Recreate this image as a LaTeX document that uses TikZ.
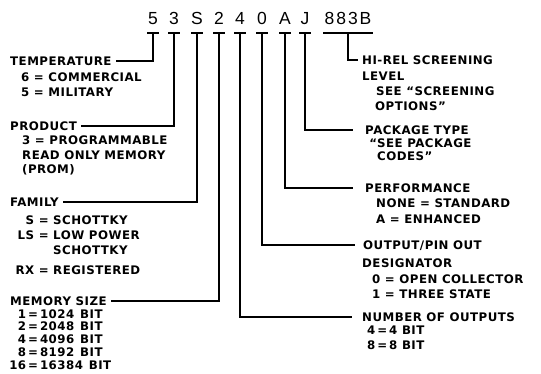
\documentclass[tikz,border=0pt]{standalone}
\usepackage{fontspec}
\setmainfont{DejaVu Sans}[LetterSpace=4]
\newfontfamily\partfont{Liberation Sans}
\usetikzlibrary{positioning}

\newcommand{\kv}[3]{\makebox[#1][r]{#2} = #3}
\newcommand{\kvc}[2]{\makebox[#1]{} \hphantom{=} #2}
\newcommand{\msize}[2]{\makebox[16pt][r]{#1}\,=\,#2\enspace BIT}

\begin{document}
\begin{tikzpicture}[
  x=1pt, y=-1pt,
  every node/.style={font=\bfseries\fontsize{11.8}{13}\selectfont},
  digit/.style={anchor=base, inner sep=0pt, font=\partfont\fontsize{17.5}{17.5}\selectfont},
  head/.style={anchor=west, inner xsep=4pt, inner ysep=0pt, text height=8.4pt, text depth=0pt},
  row/.style={inner sep=0pt, text height=8.4pt, text depth=0pt},
  bar/.style={line width=2.6pt},
  conn/.style={line width=1.3pt}
]
\useasboundingbox (0,0) rectangle (541,373);

% Part number
\node[digit] (d5) at (153,24.5) {5};
\node[digit] (d3) at (174,24.5) {3};
\node[digit] (dS) at (197,24.5) {S};
\node[digit] (d2) at (219,24.5) {2};
\node[digit] (d4) at (240,24.5) {4};
\node[digit] (d0) at (262,24.5) {0};
\node[digit] (dA) at (285,24.5) {A};
\node[digit] (dJ) at (305,24.5) {J};
\node[digit] (dB) at (348,24.5) {8\kern2pt8\kern2pt3\kern2ptB};

% Underline marks
\coordinate (u5) at ([yshift=-8.5pt]d5.base);
\coordinate (u3) at ([yshift=-8.5pt]d3.base);
\coordinate (uS) at ([yshift=-8.5pt]dS.base);
\coordinate (u2) at ([yshift=-8.5pt]d2.base);
\coordinate (u4) at ([yshift=-8.5pt]d4.base);
\coordinate (u0) at ([yshift=-8.5pt]d0.base);
\coordinate (uA) at ([yshift=-8.5pt]dA.base);
\coordinate (uJ) at ([yshift=-8.5pt]dJ.base);
\coordinate (uB) at ([yshift=-8.5pt]dB.base);
\draw[bar] ([xshift=-6pt]u5) -- ([xshift=6pt]u5);
\draw[bar] ([xshift=-6pt]u3) -- ([xshift=6pt]u3);
\draw[bar] ([xshift=-6pt]uS) -- ([xshift=6pt]uS);
\draw[bar] ([xshift=-6pt]u2) -- ([xshift=6pt]u2);
\draw[bar] ([xshift=-6pt]u4) -- ([xshift=6pt]u4);
\draw[bar] ([xshift=-6pt]u0) -- ([xshift=6pt]u0);
\draw[bar] ([xshift=-6pt]uA) -- ([xshift=6pt]uA);
\draw[bar] ([xshift=-6pt]uJ) -- ([xshift=6pt]uJ);
\draw[bar] ([xshift=-25pt]uB) -- ([xshift=25pt]uB);

% Temperature
\node[head] (temp) at (6,61) {TEMPERATURE};
\node[row, below right=7pt and 15pt of temp.south west] (temp1) {6 = COMMERCIAL};
\node[row, below right=7pt and 0pt of temp1.south west] (temp2) {5 = MILITARY};

% Product
\node[head] (prod) at (6,126) {PRODUCT};
\node[row, below right=5.6pt and 16pt of prod.south west] (prod1) {3 = PROGRAMMABLE};
\node[row, below right=5.6pt and 0pt of prod1.south west] (prod2) {READ ONLY MEMORY};
\node[row, below right=5.6pt and 0pt of prod2.south west] (prod3) {(PROM)};

% Family
\node[head] (fam) at (6,202) {FAMILY};
\node[row, below right=9.6pt and 6pt of fam.south west] (fam1) {\kv{22pt}{S}{SCHOTTKY}};
\node[row, below right=5.6pt and 0pt of fam1.south west] (fam2) {\kv{22pt}{LS}{LOW POWER}};
\node[row, below right=6.6pt and 0pt of fam2.south west] (fam3) {\kvc{22pt}{SCHOTTKY}};
\node[row, below right=11.6pt and 0pt of fam3.south west] (fam4) {\kv{22pt}{RX}{REGISTERED}};

% Memory size
\node[head] (mem) at (6,301) {MEMORY SIZE};
\node[row, below right=4pt and 4pt of mem.south west] (mem1) {\msize{1}{1024}};
\node[row, below right=4pt and 0pt of mem1.south west] (mem2) {\msize{2}{2048}};
\node[row, below right=4pt and 0pt of mem2.south west] (mem3) {\msize{4}{4096}};
\node[row, below right=4pt and 0pt of mem3.south west] (mem4) {\msize{8}{8192}};
\node[row, below right=4pt and 0pt of mem4.south west] (mem5) {\msize{16}{16384}};

% Hi-rel screening
\node[head] (hirel) at (358,60) {HI-REL SCREENING};
\node[row, below right=7pt and 4pt of hirel.south west] (hirel1) {LEVEL};
\node[row, below right=6.6pt and 14pt of hirel1.south west] (hirel2) {SEE “SCREENING};
\node[row, below right=6.6pt and -1pt of hirel2.south west] (hirel3) {OPTIONS”};

% Package type
\node[head] (pkg) at (361,130) {PACKAGE TYPE};
\node[row, below right=4.1pt and 16pt of pkg.south west] (pkg1) {\llap{“}SEE PACKAGE};
\node[row, below right=4.1pt and 0pt of pkg1.south west] (pkg2) {CODES”};

% Performance
\node[head] (perf) at (361,188) {PERFORMANCE};
\node[row, below right=6.6pt and 15pt of perf.south west] (perf1) {NONE = STANDARD};
\node[row, below right=6.6pt and 0pt of perf1.south west] (perf2) {A = ENHANCED};

% Output / pin out
\node[head] (outp) at (359,245) {OUTPUT/PIN OUT};
\node[row, below right=9.6pt and 3pt of outp.south west] (outp1) {DESIGNATOR};
\node[row, below right=6.6pt and 10pt of outp1.south west] (outp2) {0 = OPEN COLLECTOR};
\node[row, below right=6.6pt and 0pt of outp2.south west] (outp3) {1 = THREE STATE};

% Number of outputs
\node[head] (nout) at (358,317) {NUMBER OF OUTPUTS};
\node[row, below right=4.6pt and 9pt of nout.south west] (nout1) {4\,=\,4 BIT};
\node[row, below right=6pt and 0pt of nout1.south west] (nout2) {8\,=\,8 BIT};

% Connectors
\draw[conn] (u5) |- (temp.east);
\draw[conn] (u3) |- (prod.east);
\draw[conn] (uS) |- (fam.east);
\draw[conn] (u2) |- (mem.east);
\draw[conn] (u4) |- ([xshift=-6pt]nout.west);
\draw[conn] (u0) |- ([xshift=-4pt]outp.west);
\draw[conn] (uA) |- ([xshift=-8pt]perf.west);
\draw[conn] (uJ) |- ([xshift=-8pt]pkg.west);
\draw[conn] (uB) |- (hirel.west);

\end{tikzpicture}
\end{document}
